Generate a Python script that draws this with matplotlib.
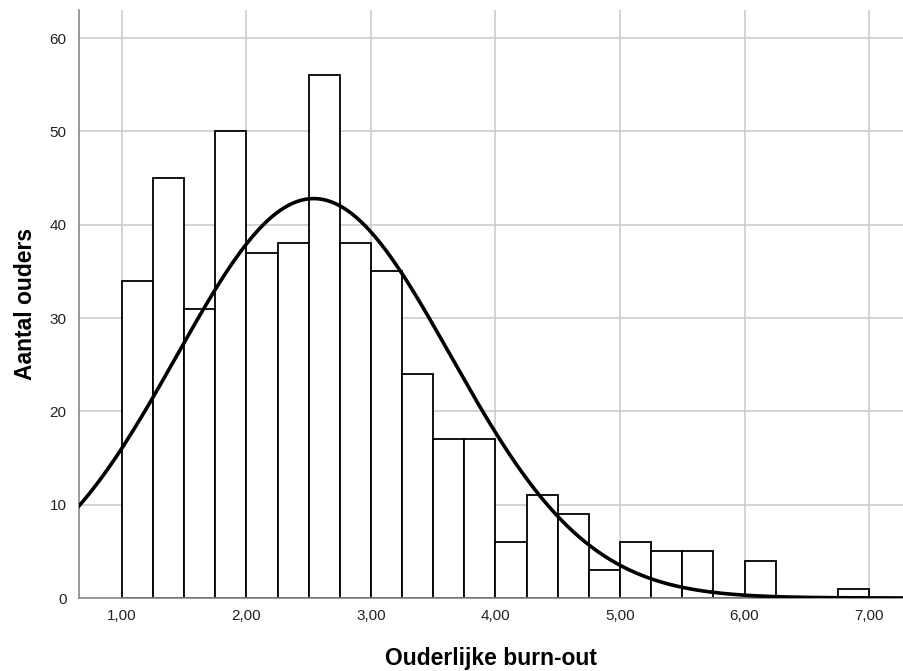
import matplotlib
matplotlib.use("Agg")
import matplotlib.pyplot as plt
import numpy as np

# histogram bins (width 0,25) and counts
bin_edges = [1.00 + 0.25 * i for i in range(25)]
counts = [34, 45, 31, 50, 37, 38, 56, 38, 35, 24, 17, 17,
          6, 11, 9, 3, 6, 5, 5, 0, 4, 0, 0, 1]

# normal curve parameters
mean_val = 2.54
sd_val = 1.10

x_ticks = [1, 2, 3, 4, 5, 6, 7]
y_ticks = [0, 10, 20, 30, 40, 50, 60]

plt.rcParams['font.family'] = ['Liberation Sans', 'DejaVu Sans']

fig = plt.figure(figsize=(9.04, 6.71), dpi=100)
ax = fig.add_axes([79 / 904, 73 / 671, 825 / 904, 588 / 671])

ax.set_axisbelow(True)
ax.grid(True, color='#cccccc', linewidth=1.2)

lefts = np.array(bin_edges[:-1])
ax.bar(lefts, counts, width=0.25, align='edge', color='white',
       edgecolor='black', linewidth=1.3, zorder=2)

n = sum(counts)
xs = np.linspace(0.6, 7.4, 400)
ys = n * 0.25 / (sd_val * np.sqrt(2 * np.pi)) * np.exp(-(xs - mean_val) ** 2 / (2 * sd_val ** 2))
ax.plot(xs, ys, color='black', linewidth=2.6, zorder=3)

ax.set_xlim(0.655, 7.281)
ax.set_ylim(0, 63)
ax.set_xticks(x_ticks)
ax.set_xticklabels([('%.2f' % v).replace('.', ',') for v in x_ticks])
ax.set_yticks(y_ticks)
ax.tick_params(length=0, labelsize=11, colors='#222222')
ax.tick_params(axis='x', pad=8)
ax.tick_params(axis='y', pad=9)

for s in ['top', 'right']:
    ax.spines[s].set_visible(False)
for s in ['left', 'bottom']:
    ax.spines[s].set_color('#888888')
    ax.spines[s].set_linewidth(1.2)

ax.set_xlabel('Ouderlijke burn-out', fontsize=16.5, fontweight='bold', labelpad=17)
ax.set_ylabel('Aantal ouders', fontsize=16.5, fontweight='bold', labelpad=9)

fig.savefig('out.png', dpi=100)
